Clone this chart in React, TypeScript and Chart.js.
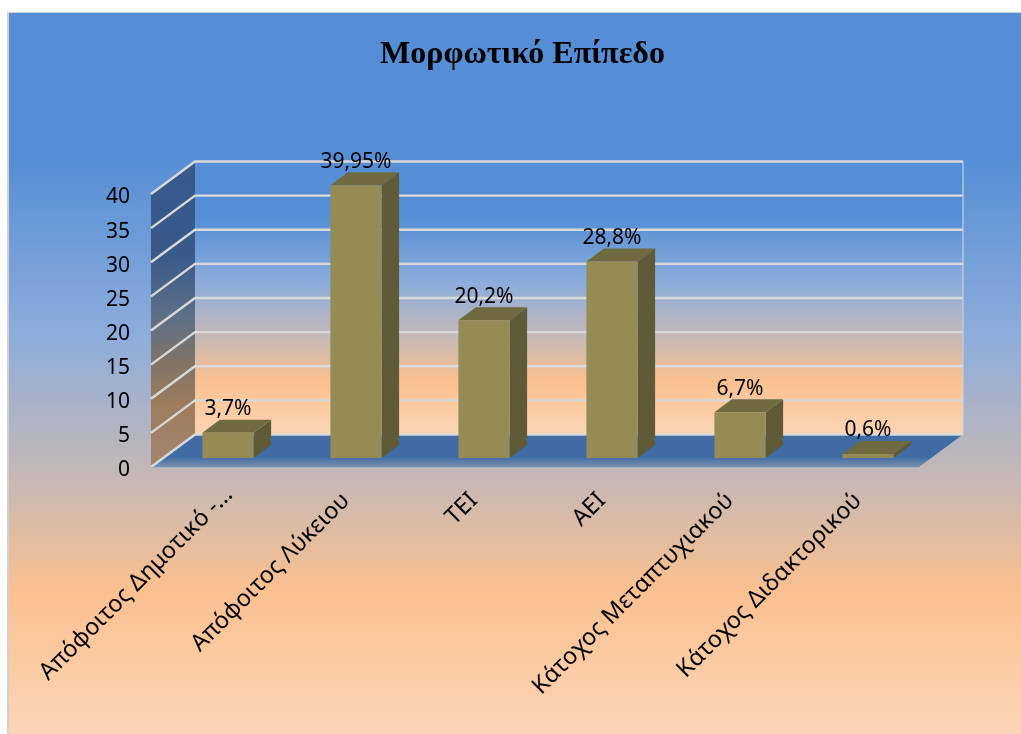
import React, { useEffect, useRef } from "react";
import { Chart, registerables } from "chart.js";

Chart.register(...registerables);

const titleText = "Μορφωτικό Επίπεδο";
const categories = [
  "Απόφοιτος Δημοτικό -...",
  "Απόφοιτος Λύκειου",
  "ΤΕΙ",
  "ΑΕΙ",
  "Κάτοχος Μεταπτυχιακού",
  "Κάτοχος Διδακτορικού",
];
const values = [3.7, 39.95, 20.2, 28.8, 6.7, 0.6];
const valueLabels = ["3,7%", "39,95%", "20,2%", "28,8%", "6,7%", "0,6%"];

const FONT = '"Noto Sans", "Open Sans", sans-serif';
const WALL_DX = 44;
const WALL_DY = 32.5;
const BAR_DX = 17.5;
const BAR_DY = 13;
const BAR_SHIFT_X = 13;
const BAR_SHIFT_Y = -9;

const BG_STOPS: [number, string][] = [
  [0, "#558ED5"],
  [0.2, "#558ED5"],
  [0.45, "#8EADDB"],
  [0.64, "#C4B8B6"],
  [0.8, "#FAC090"],
  [1, "#FCD5B5"],
];
const SIDE_STOPS: [number, string][] = [
  [0, "#375A8C"],
  [0.3, "#38598A"],
  [0.5, "#5C6E88"],
  [0.65, "#7E7468"],
  [0.8, "#9E7C5C"],
  [1, "#A28672"],
];

function vGradient(ctx: CanvasRenderingContext2D, y0: number, y1: number, stops: [number, string][]) {
  const g = ctx.createLinearGradient(0, y0, 0, y1);
  stops.forEach(([o, c]) => g.addColorStop(o, c));
  return g;
}

function poly(ctx: CanvasRenderingContext2D, pts: number[][], fill: string | CanvasGradient) {
  ctx.beginPath();
  pts.forEach(([x, y], i) => (i ? ctx.lineTo(x, y) : ctx.moveTo(x, y)));
  ctx.closePath();
  ctx.fillStyle = fill;
  ctx.fill();
}

const scenePlugin = {
  id: "scene",
  beforeDraw(chart: any) {
    const { ctx, width, height, chartArea: a, scales } = chart;
    const y = scales.y;
    // the first, truncated label sits further right in the original
    const xItems = scales.x.getLabelItems(a);
    if (xItems[0] && !xItems[0].shifted) {
      xItems[0].options.translation[0] += 11;
      xItems[0].options.translation[1] -= 6;
      xItems[0].shifted = true;
    }
    ctx.save();
    ctx.fillStyle = "#ffffff";
    ctx.fillRect(0, 0, width, height);
    ctx.fillStyle = "#D0D0D0";
    ctx.fillRect(7, 12, width - 7, height - 12);
    ctx.fillStyle = vGradient(ctx, 13, height, BG_STOPS);
    ctx.fillRect(9, 13, width - 9, height - 13);

    const topBack = y.getPixelForValue(40) - WALL_DY;
    const botBack = y.getPixelForValue(0) - WALL_DY;
    const botFront = y.getPixelForValue(0);
    const topFront = y.getPixelForValue(40);

    ctx.fillStyle = vGradient(ctx, topBack, botBack, BG_STOPS);
    ctx.fillRect(a.left + WALL_DX, topBack, a.right - a.left, botBack - topBack);
    poly(
      ctx,
      [
        [a.left, topFront],
        [a.left + WALL_DX, topBack],
        [a.left + WALL_DX, botBack],
        [a.left, botFront],
      ],
      vGradient(ctx, topBack, botFront, SIDE_STOPS)
    );
    poly(
      ctx,
      [
        [a.left + WALL_DX, botBack],
        [a.right + WALL_DX, botBack],
        [a.right, botFront],
        [a.left, botFront],
      ],
      vGradient(ctx, botBack, botFront, [
        [0, "#406CA3"],
        [0.7, "#406CA3"],
        [1, "#7A90AC"],
      ])
    );
    ctx.strokeStyle = "#D9D9D9";
    ctx.lineWidth = 2.4;
    y.ticks.forEach((t: any) => {
      const py = y.getPixelForValue(t.value);
      ctx.beginPath();
      ctx.moveTo(a.left, py);
      ctx.lineTo(a.left + WALL_DX, py - WALL_DY);
      ctx.lineTo(a.right + WALL_DX, py - WALL_DY);
      ctx.stroke();
    });
    ctx.lineWidth = 1.2;
    ctx.strokeStyle = "#C8D0DC";
    ctx.beginPath();
    ctx.moveTo(a.right + WALL_DX, topBack);
    ctx.lineTo(a.right + WALL_DX, botBack);
    ctx.stroke();
    ctx.strokeStyle = "#A6B2C2";
    ctx.beginPath();
    ctx.moveTo(a.left, botFront + 0.5);
    ctx.lineTo(a.right, botFront + 0.5);
    ctx.stroke();
    ctx.restore();
  },
  beforeDatasetsDraw(chart: any) {
    chart.ctx.save();
    chart.ctx.translate(BAR_SHIFT_X, BAR_SHIFT_Y);
    const { ctx } = chart;
    chart.getDatasetMeta(0).data.forEach((bar: any) => {
      const l = bar.x - bar.width / 2;
      const r = bar.x + bar.width / 2;
      const t = bar.y;
      const b = bar.base;
      poly(ctx, [[r, t], [r + BAR_DX, t - BAR_DY], [r + BAR_DX, b - BAR_DY], [r, b]], "#5F5A38");
      poly(ctx, [[l, t], [l + BAR_DX, t - BAR_DY], [r + BAR_DX, t - BAR_DY], [r, t]], "#706A41");
    });
  },
  afterDatasetsDraw(chart: any) {
    const { ctx } = chart;
    ctx.fillStyle = "#000000";
    ctx.font = `21px ${FONT}`;
    ctx.textAlign = "center";
    ctx.textBaseline = "middle";
    chart.getDatasetMeta(0).data.forEach((bar: any, i: number) => {
      ctx.fillText(valueLabels[i], bar.x, bar.y - 23.5);
    });
    ctx.restore();
  },
};

export default function App() {
  const ref = useRef<HTMLCanvasElement>(null);
  useEffect(() => {
    const chart = new Chart(ref.current!, {
      type: "bar",
      data: {
        labels: categories,
        datasets: [
          {
            label: titleText,
            data: values,
            backgroundColor: "#958B54",
            borderWidth: 0,
            barPercentage: 0.4,
            categoryPercentage: 1,
          },
        ],
      },
      options: {
        responsive: false,
        animation: false,
        layout: { padding: { left: 24, right: 0, top: 0, bottom: 0 } },
        plugins: {
          legend: { display: false },
          tooltip: { enabled: false },
          title: {
            display: true,
            text: titleText,
            color: "#000000",
            font: { family: '"Liberation Serif", serif', size: 32, weight: "bold", lineHeight: 1.2 },
            padding: { top: 36, bottom: 119.6 },
          },
        },
        scales: {
          x: {
            type: "category",
            grid: { display: false },
            border: { display: false },
            ticks: {
              autoSkip: false,
              minRotation: 45,
              maxRotation: 45,
              padding: 12,
              labelOffset: 3,
              color: "#000000",
              font: { family: FONT, size: 23.5 },
            },
            afterFit(scale: any) {
              scale.height = 267;
              scale.paddingLeft = 0;
              scale.paddingRight = 0;
            },
          },
          y: {
            type: "linear",
            min: 0,
            max: 40,
            grid: { display: false },
            border: { display: false },
            ticks: {
              stepSize: 5,
              padding: 13,
              labelOffset: 3.5,
              color: "#000000",
              font: { family: FONT, size: 21 },
            },
            afterFit(scale: any) {
              scale.width = 127;
              scale.paddingTop = 0;
              scale.paddingBottom = 0;
            },
          },
          spacer: {
            type: "linear",
            position: "right",
            display: true,
            grid: { display: false },
            border: { display: false },
            ticks: { display: false },
            afterFit(scale: any) {
              scale.width = 102;
            },
          },
        },
      } as any,
      plugins: [scenePlugin],
    });
    return () => chart.destroy();
  }, []);
  return (
    <div style={{ position: "fixed", left: 0, top: 0, width: 1021, height: 734, overflow: "hidden" }}>
      <canvas ref={ref} width={1021} height={734} style={{ display: "block" }} />
    </div>
  );
}
